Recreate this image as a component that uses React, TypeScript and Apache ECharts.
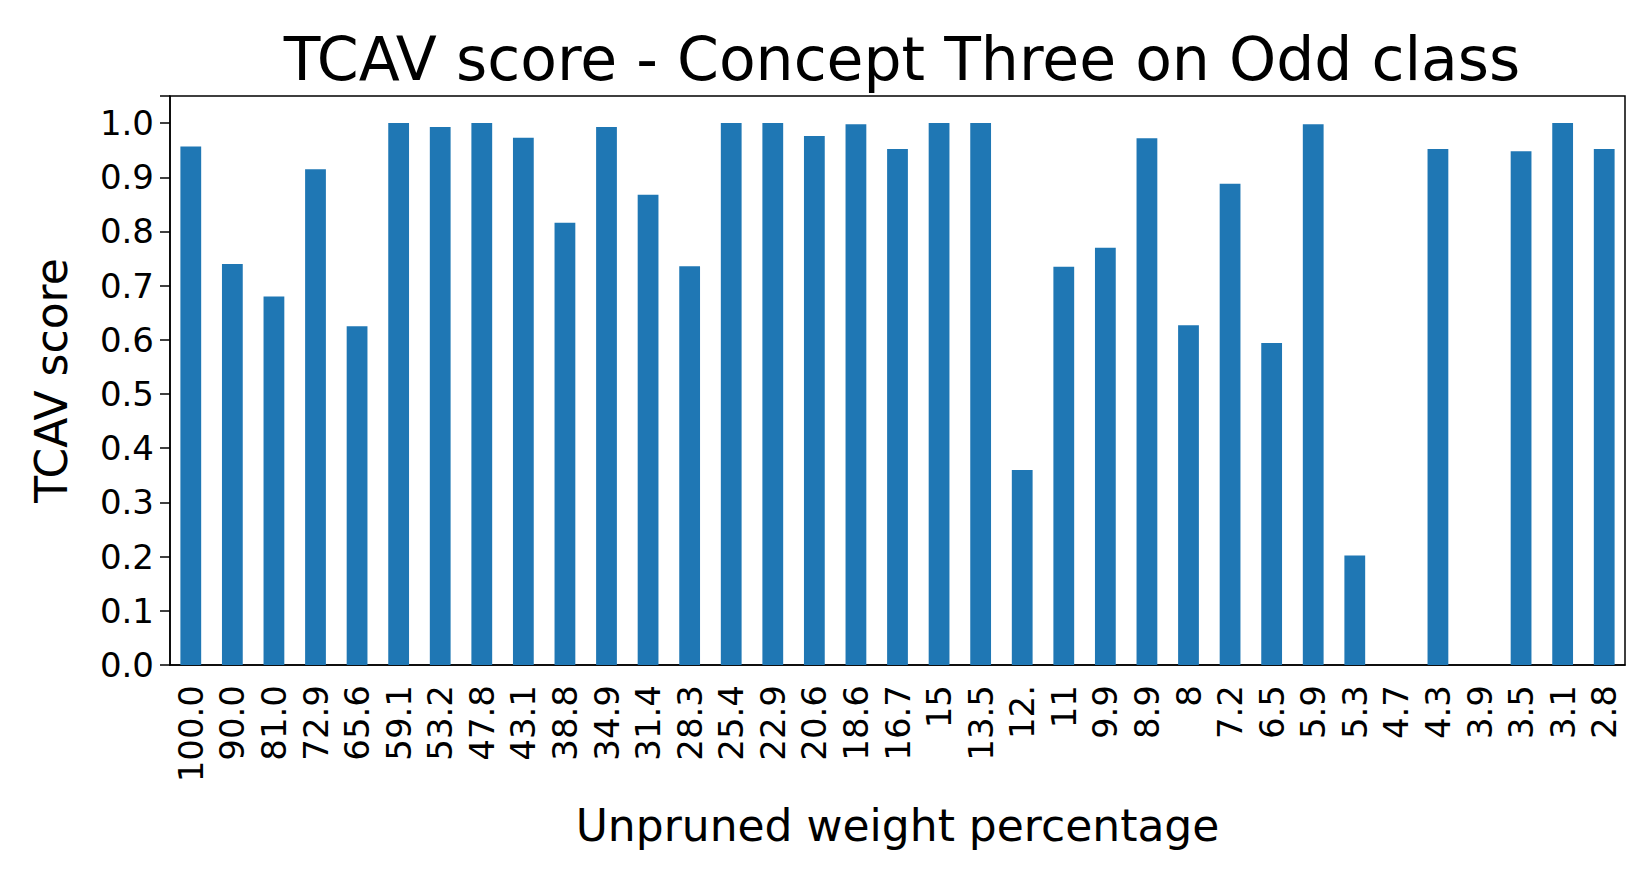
import React, { useEffect, useRef } from "react";
import * as echarts from "echarts";

const categories = [
  "100.0", "90.0", "81.0", "72.9", "65.6", "59.1", "53.2", "47.8", "43.1", "38.8",
  "34.9", "31.4", "28.3", "25.4", "22.9", "20.6", "18.6", "16.7", "15", "13.5",
  "12.", "11", "9.9", "8.9", "8", "7.2", "6.5", "5.9", "5.3", "4.7",
  "4.3", "3.9", "3.5", "3.1", "2.8",
];

const scores = [
  0.957, 0.74, 0.68, 0.915, 0.625, 1.0, 0.993, 1.0, 0.973, 0.816,
  0.993, 0.868, 0.736, 1.0, 1.0, 0.976, 0.998, 0.952, 1.0, 1.0,
  0.36, 0.735, 0.77, 0.972, 0.627, 0.888, 0.594, 0.998, 0.202, 0,
  0.952, 0, 0.948, 1.0, 0.952,
];

const font = "DejaVu Sans";

const App = () => {
  const chartRef = useRef<HTMLDivElement>(null);

  useEffect(() => {
    document.body.style.margin = "0";
    if (!chartRef.current) return;
    const chart = echarts.init(chartRef.current, null, { renderer: "svg" });
    chart.setOption({
      animation: false,
      backgroundColor: "#fff",
      textStyle: { fontFamily: font },
      title: {
        text: "TCAV score - Concept Three on Odd class",
        left: 897,
        textAlign: "center",
        top: 24,
        textStyle: { fontFamily: font, fontSize: 60, fontWeight: "normal", color: "#000" },
      },
      grid: {
        left: 170,
        right: 25,
        top: 96,
        bottom: 215,
        show: true,
        borderColor: "#000",
        borderWidth: 1.5,
      },
      xAxis: {
        type: "category",
        data: categories,
        name: "Unpruned weight percentage",
        nameLocation: "middle",
        nameGap: 138,
        nameTextStyle: { fontSize: 44, color: "#000" },
        axisLine: { lineStyle: { color: "#000", width: 1.5 } },
        axisTick: { alignWithLabel: true, length: 10, lineStyle: { color: "#000", width: 1.5 } },
        axisLabel: { rotate: 90, fontSize: 34, color: "#000", margin: 20, interval: 0 },
      },
      yAxis: {
        type: "value",
        min: 0,
        max: 1.05,
        interval: 0.1,
        name: "TCAV score",
        nameLocation: "middle",
        nameGap: 97,
        nameTextStyle: { fontSize: 44, color: "#000" },
        splitLine: { show: false },
        axisLine: { show: true, lineStyle: { color: "#000", width: 1.5 } },
        axisTick: { show: true, length: 10, lineStyle: { color: "#000", width: 1.5 } },
        axisLabel: {
          fontSize: 34,
          color: "#000",
          margin: 16,
          formatter: (v: number) => (Math.abs(v - 1.05) < 1e-6 ? "" : v.toFixed(1)),
        },
      },
      series: [
        {
          type: "bar",
          data: scores,
          barWidth: "50%",
          itemStyle: { color: "#1f77b4" },
        },
      ],
    });
    return () => chart.dispose();
  }, []);

  return <div ref={chartRef} style={{ width: 1650, height: 880 }} />;
};

export default App;
